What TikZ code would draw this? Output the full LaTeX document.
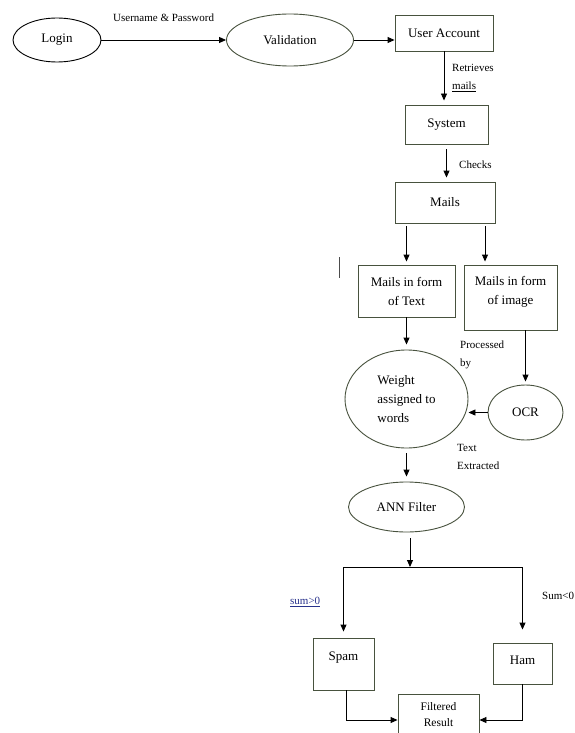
\documentclass[tikz,border=0pt]{standalone}
\usepackage{fontspec}
\setmainfont{Liberation Serif}
\usetikzlibrary{arrows.meta,shapes.geometric,calc}
\definecolor{edgeol}{RGB}{72,82,62}
\definecolor{linkblue}{RGB}{40,50,140}
\begin{document}
\begin{tikzpicture}[x=1pt,y=-1pt,
  every node/.style={font=\fontsize{13}{19}\selectfont, inner sep=0pt},
  oval/.style={ellipse,draw=edgeol,line width=0.9pt},
  boxn/.style={rectangle,draw=edgeol,line width=0.9pt},
  lbl/.style={font=\fontsize{11}{18}\selectfont,align=left},
  arr/.style={draw=black,line width=0.9pt,-{Triangle[length=7pt,width=6pt]}},
  plain/.style={draw=black,line width=0.9pt}]
\clip (0,0) rectangle (575,733);
\fill[white] (0,0) rectangle (575,733);

% nodes
\node[oval,draw=black,minimum width=88pt,minimum height=44pt] (login) at (57,40) {Login};
\node[oval,minimum width=127pt,minimum height=52pt] (valid) at (290,40) {Validation};
\node[boxn,minimum width=98pt,minimum height=36pt] (ua) at (444,33) {User Account};
\node[boxn,minimum width=83pt,minimum height=39pt] (sys) at (446.5,124.5) {System};
\node[boxn,minimum width=100pt,minimum height=41pt] (mails) at (445,202.5) {Mails};
\node[boxn,minimum width=97pt,minimum height=52pt,align=center] (mtext) at (406.5,291) {Mails in form\\of Text};
\node[boxn,minimum width=93pt,minimum height=65pt] (mimg) at (510.5,297.5) {};
\node[align=center] (mimgt) at (510.5,292) {Mails in form\\of image};
\node[oval,minimum width=123pt,minimum height=98pt,align=left] (weight) at (406.5,399) {Weight\\assigned to\\words};
\node[oval,minimum width=75pt,minimum height=55pt] (ocr) at (525.5,412.5) {OCR};
\node[oval,minimum width=116pt,minimum height=50pt] (ann) at (406.5,507) {ANN Filter};
\node[boxn,minimum width=61pt,minimum height=52pt] (spam) at (343.5,664) {};
\node (spamt) at (343.5,658) {Spam};
\node[boxn,minimum width=59pt,minimum height=41pt] (ham) at (522.5,663.5) {};
\node (hamt) at (522.5,660) {Ham};
\node[boxn,minimum width=81pt,minimum height=52pt] (filt) at (438.5,720) {};
\node[align=center,font=\fontsize{11.5}{16}\selectfont] (filtt) at (438.5,715) {Filtered\\Result};

% labels
\node[lbl,anchor=west] (lup) at (113,18) {Username \& Password};
\node[lbl,anchor=north west] (lret) at (452,64) {Retrieves\\\underline{mails}};
\node[lbl,anchor=west] (lchk) at (459,165) {Checks};
\node[lbl,anchor=north west] (lproc) at (460,341) {Processed\\by};
\node[lbl,anchor=north west] (lext) at (457,444) {Text\\Extracted};
\node[lbl,anchor=west,text=linkblue] (lsp) at (290,602) {\underline{sum>0}};
\node[lbl,anchor=west] (lhm) at (542,596) {Sum<0};

% stray mark
\coordinate (barA) at (339,257);
\coordinate (barB) at (339,278);
\draw[plain,draw=black!70] (barA) -- (barB);

% connectors
\draw[arr] (login.east) -- (login.east -| valid.west);
\draw[arr] (valid.east) -- (valid.east -| ua.west);
\draw[arr,shorten >=4pt] (ua.south) -- (ua.south |- sys.north);
\draw[arr,shorten <=5pt,shorten >=4pt] (sys.south) -- (sys.south |- mails.north);
\draw[arr,shorten <=3pt,shorten >=3pt] (mtext.north |- mails.south) -- (mtext.north);
\draw[arr,shorten <=3pt,shorten >=3pt] ([xshift=40pt]mails.south) -- ([xshift=40pt]mails.south |- mimg.north);
\draw[arr,shorten >=5pt] (mtext.south) -- (weight.north);
\draw[arr,shorten >=3pt] (ocr.north |- mimg.south) -- (ocr.north);
\draw[arr] (ocr.west) -- (ocr.west -| weight.east);
\draw[arr,shorten <=5pt,shorten >=5pt] (weight.south) -- (ann.north);

\coordinate (splitTop) at (410,538);
\coordinate (split) at (410,567);
\draw[arr] (splitTop) -- (split);
\draw[plain] (spam.north |- split) -- (ham.north |- split);
\draw[arr,shorten >=6pt] (spam.north |- split) -- (spam.north);
\draw[arr,shorten >=13pt] (ham.north |- split) -- (ham.north);
\draw[arr] ([xshift=3pt]spam.south) |- (filt.west);
\draw[arr] (ham.south) |- (filt.east);
\end{tikzpicture}
\end{document}
